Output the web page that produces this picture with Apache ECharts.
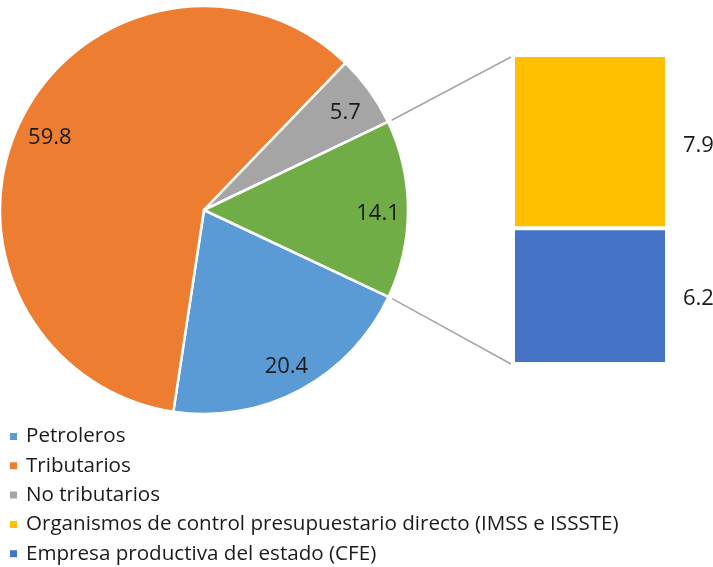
<!DOCTYPE html>
<html>
<head>
<meta charset="utf-8">
<script src="https://cdn.jsdelivr.net/npm/echarts@6/dist/echarts.min.js"></script>
<style>
html,body{margin:0;padding:0;background:#fff;}
#main{width:713px;height:567px;}
</style>
</head>
<body>
<div id="main"></div>
<script>
// Data
var pieNames = ['Petroleros', 'Tributarios', 'No tributarios', 'Otros'];
var pieValues = [20.4, 59.8, 5.7, 14.1];
var pieColors = ['#5B9BD5', '#ED7D31', '#A5A5A5', '#70AD47'];
var barNames = ['Organismos de control presupuestario directo (IMSS e ISSSTE)', 'Empresa productiva del estado (CFE)'];
var barValues = [7.9, 6.2];
var barColors = ['#FFC000', '#4472C4'];
var legendNames = ['Petroleros', 'Tributarios', 'No tributarios', barNames[0], barNames[1]];

var FONT = 'Open Sans';
var TXT = '#1a1a1a';
var center = [204, 210];
var R = 204;
var startAngle = 334.8;
var grid = {left: 513, top: 55, width: 154, height: 309};

var chart = echarts.init(document.getElementById('main'));

var pieData = pieNames.map(function (n, i) {
  return {name: n, value: pieValues[i], itemStyle: {color: pieColors[i]}};
});
var labelData = pieNames.map(function (n, i) {
  return {name: n, value: pieValues[i]};
});
var total = barValues.reduce(function (a, b) { return a + b; }, 0);
var fmt = function (p) { return p.value.toFixed(1); };

var option = {
  animation: false,
  color: pieColors,
  legend: {
    orient: 'vertical',
    left: 8,
    top: 426,
    height: 160,
    padding: 0,
    itemWidth: 9,
    itemHeight: 9,
    itemGap: 8.3,
    icon: 'rect',
    data: legendNames,
    textStyle: {fontFamily: FONT, fontSize: 20.6, color: TXT, lineHeight: 20, padding: [0, 0, 0, 3]}
  },
  grid: grid,
  xAxis: {type: 'category', data: ['Otros'], show: false},
  yAxis: {type: 'value', min: 0, max: total, show: false},
  series: [
    {
      type: 'pie',
      center: center,
      radius: R,
      startAngle: startAngle,
      clockwise: true,
      data: pieData,
      label: {show: false},
      labelLine: {show: false},
      itemStyle: {borderColor: '#fff', borderWidth: 2.5},
      emphasis: {disabled: true}
    },
    {
      type: 'pie',
      center: center,
      radius: [136, R],
      startAngle: startAngle,
      clockwise: true,
      silent: true,
      data: labelData,
      itemStyle: {color: 'rgba(0,0,0,0)'},
      label: {show: true, position: 'inside', offset: [1, 4], fontFamily: FONT, fontSize: 22, color: TXT, formatter: fmt},
      labelLine: {show: false},
      emphasis: {disabled: true},
      legendHoverLink: false
    },
    {
      type: 'bar',
      name: barNames[1],
      stack: 'o',
      barWidth: '100%',
      data: [barValues[1]],
      itemStyle: {color: barColors[1], borderColor: '#fff', borderWidth: 2},
      label: {show: true, position: 'right', distance: 16, offset: [0, 3], fontFamily: FONT, fontSize: 22, color: TXT, formatter: fmt}
    },
    {
      type: 'bar',
      name: barNames[0],
      stack: 'o',
      barWidth: '100%',
      data: [barValues[0]],
      itemStyle: {color: barColors[0], borderColor: '#fff', borderWidth: 2},
      label: {show: true, position: 'right', distance: 16, offset: [0, 4], fontFamily: FONT, fontSize: 22, color: TXT, formatter: fmt}
    }
  ]
};
chart.setOption(option);

// connector lines from the "Otros" slice edges to the bar corners
var sumBefore = 0;
for (var i = 0; i < 3; i++) sumBefore += pieValues[i];
var pieTotal = pieValues.reduce(function (a, b) { return a + b; }, 0);
var a1 = (startAngle - sumBefore / pieTotal * 360) * Math.PI / 180;           // upper edge of Otros
var a2 = (startAngle - (sumBefore + pieValues[3]) / pieTotal * 360) * Math.PI / 180; // lower edge
var rr = R + 4;
var p1 = [center[0] + rr * Math.cos(a1), center[1] - rr * Math.sin(a1)];
var p2 = [center[0] + rr * Math.cos(a2), center[1] - rr * Math.sin(a2)];
var yTop = chart.convertToPixel({yAxisIndex: 0}, total);
var yBot = chart.convertToPixel({yAxisIndex: 0}, 0);
chart.setOption({
  graphic: [
    {type: 'line', shape: {x1: p1[0], y1: p1[1], x2: grid.left - 2, y2: yTop + 2}, style: {stroke: '#A5A5A5', lineWidth: 1.5}, silent: true},
    {type: 'line', shape: {x1: p2[0], y1: p2[1], x2: grid.left - 2, y2: yBot}, style: {stroke: '#A5A5A5', lineWidth: 1.5}, silent: true}
  ]
});
</script>
</body>
</html>
